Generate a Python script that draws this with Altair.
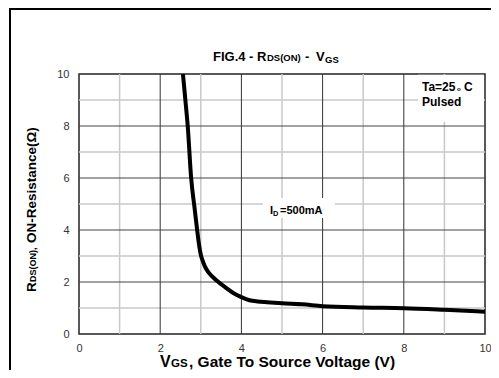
import altair as alt
import pandas as pd

# ---- data ----
vgs = [2.56, 2.62, 2.68, 2.76, 2.85, 2.91, 2.96, 3.00, 3.05, 3.10, 3.20, 3.39,
       3.60, 3.80, 4.00, 4.20, 4.40, 4.63, 5.00, 5.50, 6.00, 7.00, 8.00, 9.00, 10.0]
rds = [10.0, 9.00, 7.96, 6.04, 4.80, 4.00, 3.40, 3.05, 2.80, 2.60, 2.35, 2.06,
       1.80, 1.58, 1.42, 1.30, 1.25, 1.22, 1.18, 1.14, 1.07, 1.02, 0.99, 0.93, 0.86]
tick_values = [0, 2, 4, 6, 8, 10]
major_grid = [2, 4, 6, 8]
minor_grid = [1, 3, 5, 7, 9]

FONT = "Liberation Sans"
xs = alt.Scale(domain=[0, 10], nice=False, zero=False)
ys = alt.Scale(domain=[0, 10], nice=False, zero=False)

axis_common = dict(grid=False, ticks=False, domain=False, labelFont=FONT,
                   labelFontSize=11, labelColor="#333333", title=None,
                   values=tick_values, labelFlush=False)
XA = alt.Axis(labelPadding=8, **axis_common)
YA = alt.Axis(labelPadding=10, **axis_common)

curve_df = pd.DataFrame({"vgs": vgs, "rds": rds})
one = pd.DataFrame({"a": [0]})

minor_v = alt.Chart(pd.DataFrame({"v": minor_grid})).mark_rule(
    color="#c8c8c8", strokeWidth=1.5).encode(x=alt.X("v:Q", scale=xs, axis=XA))
minor_h = alt.Chart(pd.DataFrame({"v": minor_grid})).mark_rule(
    color="#c8c8c8", strokeWidth=1.5).encode(y=alt.Y("v:Q", scale=ys, axis=YA))
major_v = alt.Chart(pd.DataFrame({"v": major_grid})).mark_rule(
    color="#333333", strokeWidth=1).encode(x=alt.X("v:Q", scale=xs, axis=XA))
major_h = alt.Chart(pd.DataFrame({"v": major_grid})).mark_rule(
    color="#444444", strokeWidth=1).encode(y=alt.Y("v:Q", scale=ys, axis=YA))

box_id = alt.Chart(one).mark_rect(color="white").encode(
    x=alt.XDatum(4.53, scale=xs, axis=XA), x2=alt.X2Datum(6.3),
    y=alt.YDatum(5.23, scale=ys, axis=YA), y2=alt.Y2Datum(4.46))
box_ta = alt.Chart(one).mark_rect(color="white").encode(
    x=alt.XDatum(8.35, scale=xs, axis=XA), x2=alt.X2Datum(9.97),
    y=alt.YDatum(9.97, scale=ys, axis=YA), y2=alt.Y2Datum(8.15))

line = alt.Chart(curve_df).mark_line(
    color="black", strokeWidth=4, interpolate="monotone").encode(
    x=alt.X("vgs:Q", scale=xs, axis=XA),
    y=alt.Y("rds:Q", scale=ys, axis=YA),
)


def txt(s, x, y, size, bold=True, angle=0):
    kw = dict(text=s, fontSize=size, font=FONT, align="left",
              baseline="alphabetic", color="black",
              fontWeight="bold" if bold else "normal")
    if angle:
        kw["angle"] = angle
    return alt.Chart(one).mark_text(**kw).encode(x=alt.value(x), y=alt.value(y))


texts = [
    # title
    txt("FIG.4 - R", 134, -13, 13),
    txt("DS(ON)", 188, -13, 9.5),
    txt("-", 226, -13, 13),
    txt("V", 237, -13, 13),
    txt("GS", 246, -11, 9.5),
    # x title
    txt("V", 81, 293, 16),
    txt("GS", 92, 293, 11.5),
    txt(", Gate To Source Voltage (V)", 110, 293, 15.5),
    # y title
    txt("R", -43, 218, 13.5, angle=270),
    txt("DS(ON),", -43, 208, 9, angle=270),
    txt("ON-Resistance(Ω)", -43, 169, 13.5, angle=270),
    # annotations
    txt("I", 191, 140, 11),
    txt("D", 194, 142, 7.5),
    txt("=500mA", 201, 140, 11),
    txt("Ta=25", 343, 17, 12),
    txt("o", 378, 17, 6),
    txt("C", 385, 17, 12),
    txt("Pulsed", 343, 32, 12),
]

frame_top = alt.Chart(one).mark_rule(color="black", strokeWidth=2).encode(
    x=alt.value(-69), x2=alt.value(420), y=alt.value(-65))
frame_left = alt.Chart(one).mark_rule(color="black", strokeWidth=2).encode(
    x=alt.value(-69), y=alt.value(-66), y2=alt.value(300))

chart = alt.layer(
    minor_v, minor_h, major_v, major_h, box_id, box_ta, line,
    *texts, frame_top, frame_left,
).properties(
    width=406, height=260,
    autosize=alt.AutoSizeParams(type="none"),
    padding={"left": 71, "top": 66, "right": 6, "bottom": 36},
    background="white",
).configure_view(stroke="#222222", strokeWidth=1.5)

chart.save("out.html", embed_options={"renderer": "svg", "actions": False})
